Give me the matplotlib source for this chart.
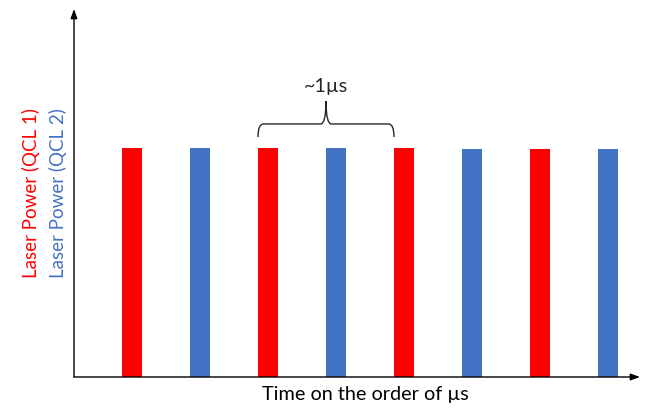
import numpy as np
import matplotlib.pyplot as plt
from matplotlib.path import Path
from matplotlib.patches import PathPatch

plt.rcParams["font.family"] = ["Lato", "DejaVu Sans"]

# pulse train: alternating QCL 1 / QCL 2 pulses
pulse_index = [0, 1, 2, 3, 4, 5, 6, 7]
pulse_power = [1.0, 1.0, 1.0, 1.0, 1.0, 0.996, 0.996, 0.996]
pulse_laser = ["QCL 1", "QCL 2", "QCL 1", "QCL 2", "QCL 1", "QCL 2", "QCL 1", "QCL 2"]

RED = "#FF0000"
BLUE = "#4472C4"
INK = "#262626"
colours = {"QCL 1": RED, "QCL 2": BLUE}

W, H = 655, 414
fig = plt.figure(figsize=(W / 100, H / 100), dpi=100)

# axes placed in pixel units of the figure
left, right, bottom, top = 74, 640, 378, 10
ax = fig.add_axes([left / W, 1 - bottom / H, (right - left) / W, (bottom - top) / H])

bar_w = 20 / 68
ax.bar(pulse_index, pulse_power, width=bar_w,
       color=[colours[q] for q in pulse_laser], zorder=2)

ax.set_xlim(-58 / 68, 508 / 68)
ax.set_ylim(0, 368 / 229)
for s in ax.spines.values():
    s.set_visible(False)
ax.set_xticks([])
ax.set_yticks([])

# axis arrows
ax.annotate("", xy=(1, 0), xytext=(0, 0), xycoords="axes fraction",
            arrowprops=dict(arrowstyle="-|>,head_length=0.55,head_width=0.2",
                            color="black", lw=1.0, shrinkA=0, shrinkB=0))
ax.annotate("", xy=(0, 1), xytext=(0, 0), xycoords="axes fraction",
            arrowprops=dict(arrowstyle="-|>,head_length=0.55,head_width=0.2",
                            color="black", lw=1.0, shrinkA=0, shrinkB=0))

# curly brace spanning one period (~1 us)
x0 = pulse_index[2] - bar_w / 2
x1 = pulse_index[4] - bar_w / 2
xm = (x0 + x1) / 2
y_end, y_bar, y_tip = 1.048, 1.105, 1.205
r = 0.08
verts = [
    (x0, y_end), (x0, y_bar), (x0 + r, y_bar),
    (xm - r, y_bar), (xm, y_bar), (xm, y_tip),
    (xm, y_bar), (xm + r, y_bar),
    (x1 - r, y_bar), (x1, y_bar), (x1, y_end),
]
codes = [Path.MOVETO, Path.CURVE3, Path.CURVE3,
         Path.LINETO, Path.CURVE3, Path.CURVE3,
         Path.CURVE3, Path.CURVE3,
         Path.LINETO, Path.CURVE3, Path.CURVE3]
ax.add_patch(PathPatch(Path(verts, codes), facecolor="none",
                       edgecolor=INK, lw=1.0, clip_on=False))
ax.text(xm, 1.275, "~1µs", ha="center", va="center", fontsize=14.2, color=INK)

# labels
fig.text(365 / W, 1 - 395 / H, "Time on the order of µs", ha="center",
         va="center", fontsize=14.3, color="black")
fig.text(31 / W, 1 - 193 / H, "Laser Power (QCL 1)", rotation=90, ha="center",
         va="center", fontsize=13.5, color=RED)
fig.text(58 / W, 1 - 193 / H, "Laser Power (QCL 2)", rotation=90, ha="center",
         va="center", fontsize=13.5, color=BLUE)

fig.savefig("out.png", dpi=100, facecolor="white")
